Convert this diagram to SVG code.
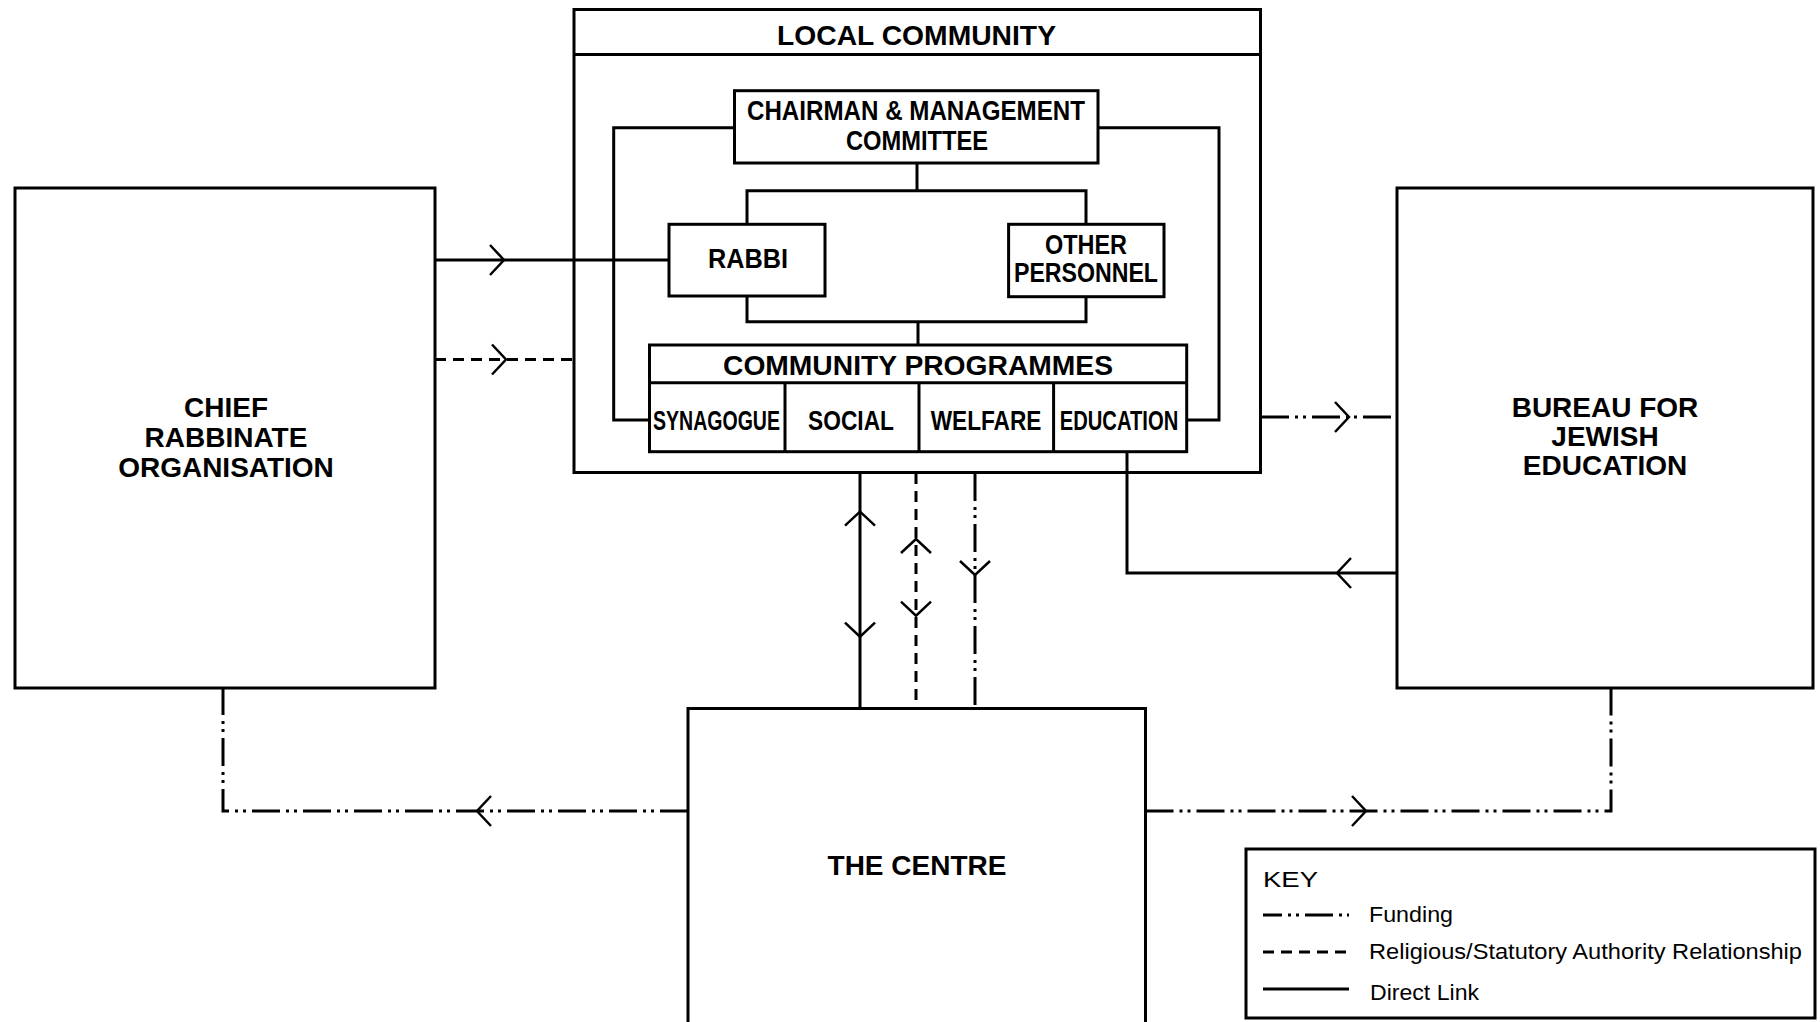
<svg xmlns="http://www.w3.org/2000/svg" xmlns:xlink="http://www.w3.org/1999/xlink" width="1820" height="1022" viewBox="0 0 1820 1022">
  <style>
    .box { fill: none; stroke: #000; stroke-width: 3; }
    .ln { fill: none; stroke: #000; stroke-width: 3; }
    .solid { fill: none; stroke: #000; stroke-width: 3; }
    .dash { fill: none; stroke: #000; stroke-width: 3; stroke-dasharray: 11 7; }
    .fund { fill: none; stroke: #000; stroke-width: 3; stroke-dasharray: 28 6 3 5 3 6; }
    .chev { fill: none; stroke: #000; stroke-width: 2.5; }
    .lbl { font-family: "Liberation Sans", Arial, Helvetica, sans-serif; font-weight: bold; font-size: 27px; fill: #000; text-anchor: middle; }
    .big { font-family: "Liberation Sans", Arial, Helvetica, sans-serif; font-weight: bold; font-size: 28px; fill: #000; text-anchor: middle; }
    .key { font-family: "Liberation Sans", Arial, Helvetica, sans-serif; font-size: 22px; fill: #000; }
  </style>
  <defs>
    <!-- open chevron arrowhead, tip at origin, pointing +x -->
    <path id="chev" class="chev" d="M-14,-15 L0,0 L-14,15"/>
  </defs>
  <rect width="1820" height="1022" fill="#fff"/>

  <!-- connectors -->
  <g id="connectors">
    <!-- inside the local community -->
    <path class="ln" d="M734.5,127.7 H613.7 V420 H649.5"/>
    <path class="ln" d="M1098,127.7 H1219 V420 H1186.7"/>
    <path class="ln" d="M917,163 V190.7"/>
    <path class="ln" d="M747,224.3 V190.7 H1086 V224.3"/>
    <path class="ln" d="M747,296 V321.7 H1086 V296.7"/>
    <path class="ln" d="M918,321.7 V345"/>

    <!-- chief rabbinate to rabbi (direct link) -->
    <path class="solid" d="M435,260 H669"/>
    <use xlink:href="#chev" transform="translate(504,260)"/>
    <!-- chief rabbinate to local community (authority) -->
    <path class="dash" d="M435,359.5 H574"/>
    <use xlink:href="#chev" transform="translate(506,359.5)"/>

    <!-- local community to bureau (funding) -->
    <path class="fund" d="M1261,417 H1397"/>
    <use xlink:href="#chev" transform="translate(1349,417)"/>
    <!-- bureau to education (direct link) -->
    <path class="solid" d="M1127,452 V573 H1397"/>
    <use xlink:href="#chev" transform="translate(1337,573) rotate(180)"/>

    <!-- local community and the centre -->
    <path class="solid" d="M860,473 V708.5"/>
    <use xlink:href="#chev" transform="translate(860,511.7) rotate(-90)"/>
    <use xlink:href="#chev" transform="translate(860,636.7) rotate(90)"/>
    <path class="dash" d="M916,473 V708.5"/>
    <use xlink:href="#chev" transform="translate(916,539) rotate(-90)"/>
    <use xlink:href="#chev" transform="translate(916,615.7) rotate(90)"/>
    <path class="fund" d="M975,473 V708.5"/>
    <use xlink:href="#chev" transform="translate(975,575) rotate(90)"/>

    <!-- the centre to chief rabbinate and bureau (funding) -->
    <path class="fund" d="M688,811 H223 V688"/>
    <use xlink:href="#chev" transform="translate(477,811) rotate(180)"/>
    <path class="fund" d="M1145.5,811 H1611 V688"/>
    <use xlink:href="#chev" transform="translate(1366,811)"/>
  </g>

  <!-- local community container -->
  <g id="local-community">
    <rect class="box" x="574" y="9.5" width="686.5" height="463"/>
    <line class="box" x1="574" y1="54.5" x2="1260.5" y2="54.5"/>
    <text class="lbl" x="916.5" y="45" textLength="279" lengthAdjust="spacingAndGlyphs">LOCAL COMMUNITY</text>
  </g>

  <g id="chairman">
    <rect class="box" x="734.5" y="90.7" width="363.5" height="72.3"/>
    <text class="lbl" x="916" y="120" textLength="338" lengthAdjust="spacingAndGlyphs">CHAIRMAN &amp; MANAGEMENT</text>
    <text class="lbl" x="917" y="150" textLength="142" lengthAdjust="spacingAndGlyphs">COMMITTEE</text>
  </g>

  <g id="rabbi">
    <rect class="box" x="669" y="224.3" width="156" height="71.7"/>
    <text class="lbl" x="748" y="268" textLength="80" lengthAdjust="spacingAndGlyphs">RABBI</text>
  </g>

  <g id="other-personnel">
    <rect class="box" x="1008.6" y="224.3" width="155.4" height="72.4"/>
    <text class="lbl" x="1086" y="254" textLength="82" lengthAdjust="spacingAndGlyphs">OTHER</text>
    <text class="lbl" x="1086" y="282" textLength="144" lengthAdjust="spacingAndGlyphs">PERSONNEL</text>
  </g>

  <g id="community-programmes">
    <rect class="box" x="649.5" y="345" width="537.2" height="106.7"/>
    <line class="box" x1="649.5" y1="382.7" x2="1186.7" y2="382.7"/>
    <line class="box" x1="785" y1="382.7" x2="785" y2="451.7"/>
    <line class="box" x1="919" y1="382.7" x2="919" y2="451.7"/>
    <line class="box" x1="1053.6" y1="382.7" x2="1053.6" y2="451.7"/>
    <text class="lbl" x="918" y="375" textLength="390" lengthAdjust="spacingAndGlyphs">COMMUNITY PROGRAMMES</text>
    <!-- condensed cell labels -->
    <text class="lbl" transform="translate(716.5,430) scale(0.724,1)">SYNAGOGUE</text>
    <text class="lbl" transform="translate(851,430) scale(0.843,1)">SOCIAL</text>
    <text class="lbl" transform="translate(986,430) scale(0.839,1)">WELFARE</text>
    <text class="lbl" transform="translate(1119,430) scale(0.748,1)">EDUCATION</text>
  </g>

  <g id="chief-rabbinate">
    <rect class="box" x="15" y="188" width="420" height="500"/>
    <text class="big" x="226" y="417">CHIEF</text>
    <text class="big" x="226" y="447">RABBINATE</text>
    <text class="big" x="226" y="477">ORGANISATION</text>
  </g>

  <g id="bureau">
    <rect class="box" x="1397" y="188" width="416" height="500"/>
    <text class="big" x="1605" y="417">BUREAU FOR</text>
    <text class="big" x="1605" y="446">JEWISH</text>
    <text class="big" x="1605" y="475">EDUCATION</text>
  </g>

  <g id="the-centre">
    <path class="box" d="M688,1030 V708.5 H1145.5 V1030"/>
    <text class="big" x="917" y="875">THE CENTRE</text>
  </g>

  <g id="key">
    <rect class="box" x="1246" y="849" width="569" height="169"/>
    <text class="key" x="1263" y="887" font-size="24" textLength="55" lengthAdjust="spacingAndGlyphs">KEY</text>
    <line class="fund" x1="1263" y1="915" x2="1349" y2="915" stroke-dashoffset="-42"/>
    <text class="key" x="1369" y="922" textLength="84" lengthAdjust="spacingAndGlyphs">Funding</text>
    <line class="dash" x1="1263" y1="952" x2="1349" y2="952"/>
    <text class="key" x="1369" y="959" textLength="433" lengthAdjust="spacingAndGlyphs">Religious/Statutory Authority Relationship</text>
    <line class="solid" x1="1263" y1="989" x2="1349" y2="989"/>
    <text class="key" x="1370" y="1000" textLength="109" lengthAdjust="spacingAndGlyphs">Direct Link</text>
  </g>
</svg>
